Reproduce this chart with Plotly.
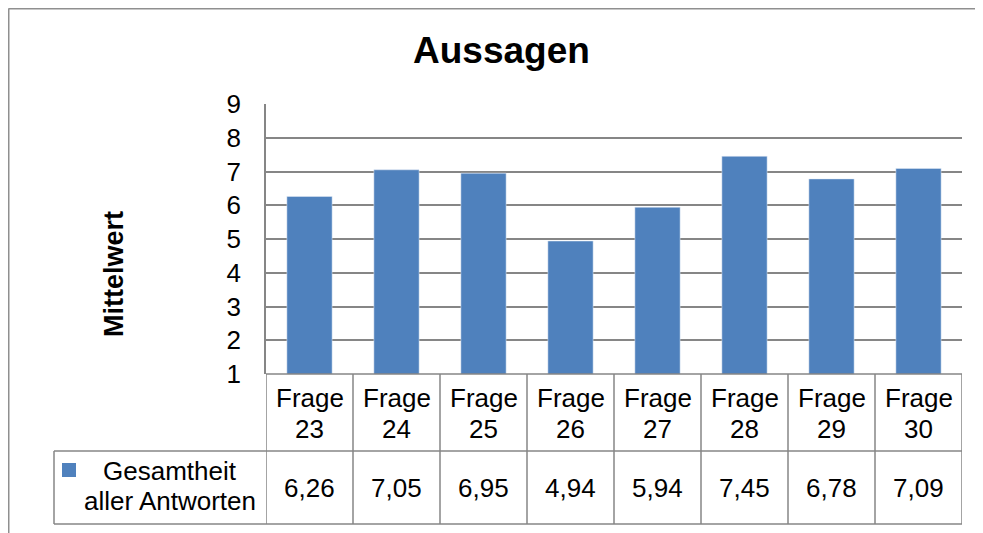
import plotly.graph_objects as go

cat_line1 = ["Frage"] * 8
cat_line2 = ["23", "24", "25", "26", "27", "28", "29", "30"]
values = [6.26, 7.05, 6.95, 4.94, 5.94, 7.45, 6.78, 7.09]
value_labels = ["6,26", "7,05", "6,95", "4,94", "5,94", "7,45", "6,78", "7,09"]
series_lines = ["Gesamtheit", "aller Antworten"]
y_ticks = [1, 2, 3, 4, 5, 6, 7, 8, 9]

# page body has an 8px margin; all pixel positions below are screen positions
OFF = 8
W, H = 975, 525
L, R, T, B = 266 - OFF, 962 - OFF, 104 - OFF, 374 - OFF
PW, PH = R - L, B - T
FONT = "Liberation Sans, Arial, sans-serif"
BLUE = "#4f81bd"
GRID = "#868686"


def px_x(p):
    return (p - OFF - L) / PW


def px_y(p):
    return (B - (p - OFF)) / PH


n = len(values)
xs = list(range(n))

fig = go.Figure()
fig.add_trace(go.Bar(x=xs, y=values, marker_color=BLUE, width=0.52,
                     name="Gesamtheit aller Antworten", showlegend=False,
                     hoverinfo="y"))

shapes = []
annotations = []

# outer chart border (top and left only visible)
shapes.append(dict(type="line", xref="paper", yref="paper",
                   x0=px_x(8.5), x1=px_x(1000), y0=px_y(8.5), y1=px_y(8.5),
                   line=dict(color="#8f8f8f", width=2)))
shapes.append(dict(type="line", xref="paper", yref="paper",
                   x0=px_x(8.5), x1=px_x(8.5), y0=px_y(8.5), y1=px_y(560),
                   line=dict(color="#8f8f8f", width=2)))

row1 = px_y(451)
row2 = px_y(524)
top = 0.0
tl = dict(color=GRID, width=1.5)

# table horizontal lines
shapes.append(dict(type="line", xref="x", yref="paper", x0=-0.5, x1=n - 0.5,
                   y0=top, y1=top, line=tl))
shapes.append(dict(type="line", xref="paper", yref="paper", x0=px_x(54), x1=1,
                   y0=row1, y1=row1, line=tl))
shapes.append(dict(type="line", xref="paper", yref="paper", x0=px_x(54), x1=1,
                   y0=row2, y1=row2, line=tl))
# legend cell left edge
shapes.append(dict(type="line", xref="paper", yref="paper", x0=px_x(54), x1=px_x(54),
                   y0=row1, y1=row2, line=tl))
# column separators
for i in range(n + 1):
    shapes.append(dict(type="line", xref="x", yref="paper", x0=i - 0.5, x1=i - 0.5,
                       y0=top, y1=row2, line=tl))

tfont = dict(family=FONT, size=26, color="#000000")
for i in range(n):
    annotations.append(dict(x=i, y=px_y(398), xref="x", yref="paper",
                            text=cat_line1[i], showarrow=False, font=tfont,
                            xanchor="center", yanchor="middle"))
    annotations.append(dict(x=i, y=px_y(429), xref="x", yref="paper",
                            text=cat_line2[i], showarrow=False, font=tfont,
                            xanchor="center", yanchor="middle"))
    annotations.append(dict(x=i, y=px_y(488), xref="x", yref="paper",
                            text=value_labels[i], showarrow=False, font=tfont,
                            xanchor="center", yanchor="middle"))

# legend key
shapes.append(dict(type="rect", xref="paper", yref="paper",
                   x0=px_x(62), x1=px_x(76), y0=px_y(463), y1=px_y(477),
                   fillcolor=BLUE, line=dict(width=0)))
for j, (line, yy) in enumerate(zip(series_lines, [471, 501])):
    annotations.append(dict(x=px_x(170), y=px_y(yy), xref="paper", yref="paper",
                            text=line, showarrow=False, font=tfont,
                            xanchor="center", yanchor="middle"))

# title
annotations.append(dict(x=px_x(501), y=px_y(50), xref="paper", yref="paper",
                        text="<b>Aussagen</b>", showarrow=False,
                        font=dict(family=FONT, size=37, color="#000000"),
                        xanchor="center", yanchor="middle"))
# y axis title
annotations.append(dict(x=px_x(114), y=px_y(274), xref="paper", yref="paper",
                        text="<b>Mittelwert</b>", showarrow=False, textangle=-90,
                        font=dict(family=FONT, size=27, color="#000000"),
                        xanchor="center", yanchor="middle"))

fig.update_layout(
    width=W, height=H,
    margin=dict(l=L, r=W - R, t=T, b=H - B, pad=0),
    paper_bgcolor="white", plot_bgcolor="white",
    shapes=shapes, annotations=annotations,
    showlegend=False,
    xaxis=dict(range=[-0.5, n - 0.5], showticklabels=False, showgrid=False,
               zeroline=False, showline=False, fixedrange=True),
    yaxis=dict(range=[1, 9], tickvals=y_ticks, showgrid=True, gridcolor=GRID,
               gridwidth=1.5, zeroline=False, showline=True, linecolor=GRID,
               linewidth=1.5, ticks="outside", ticklen=18, tickcolor="white",
               tickfont=dict(family=FONT, size=26, color="#000000"),
               fixedrange=True),
)

fig.write_html("out.html")
